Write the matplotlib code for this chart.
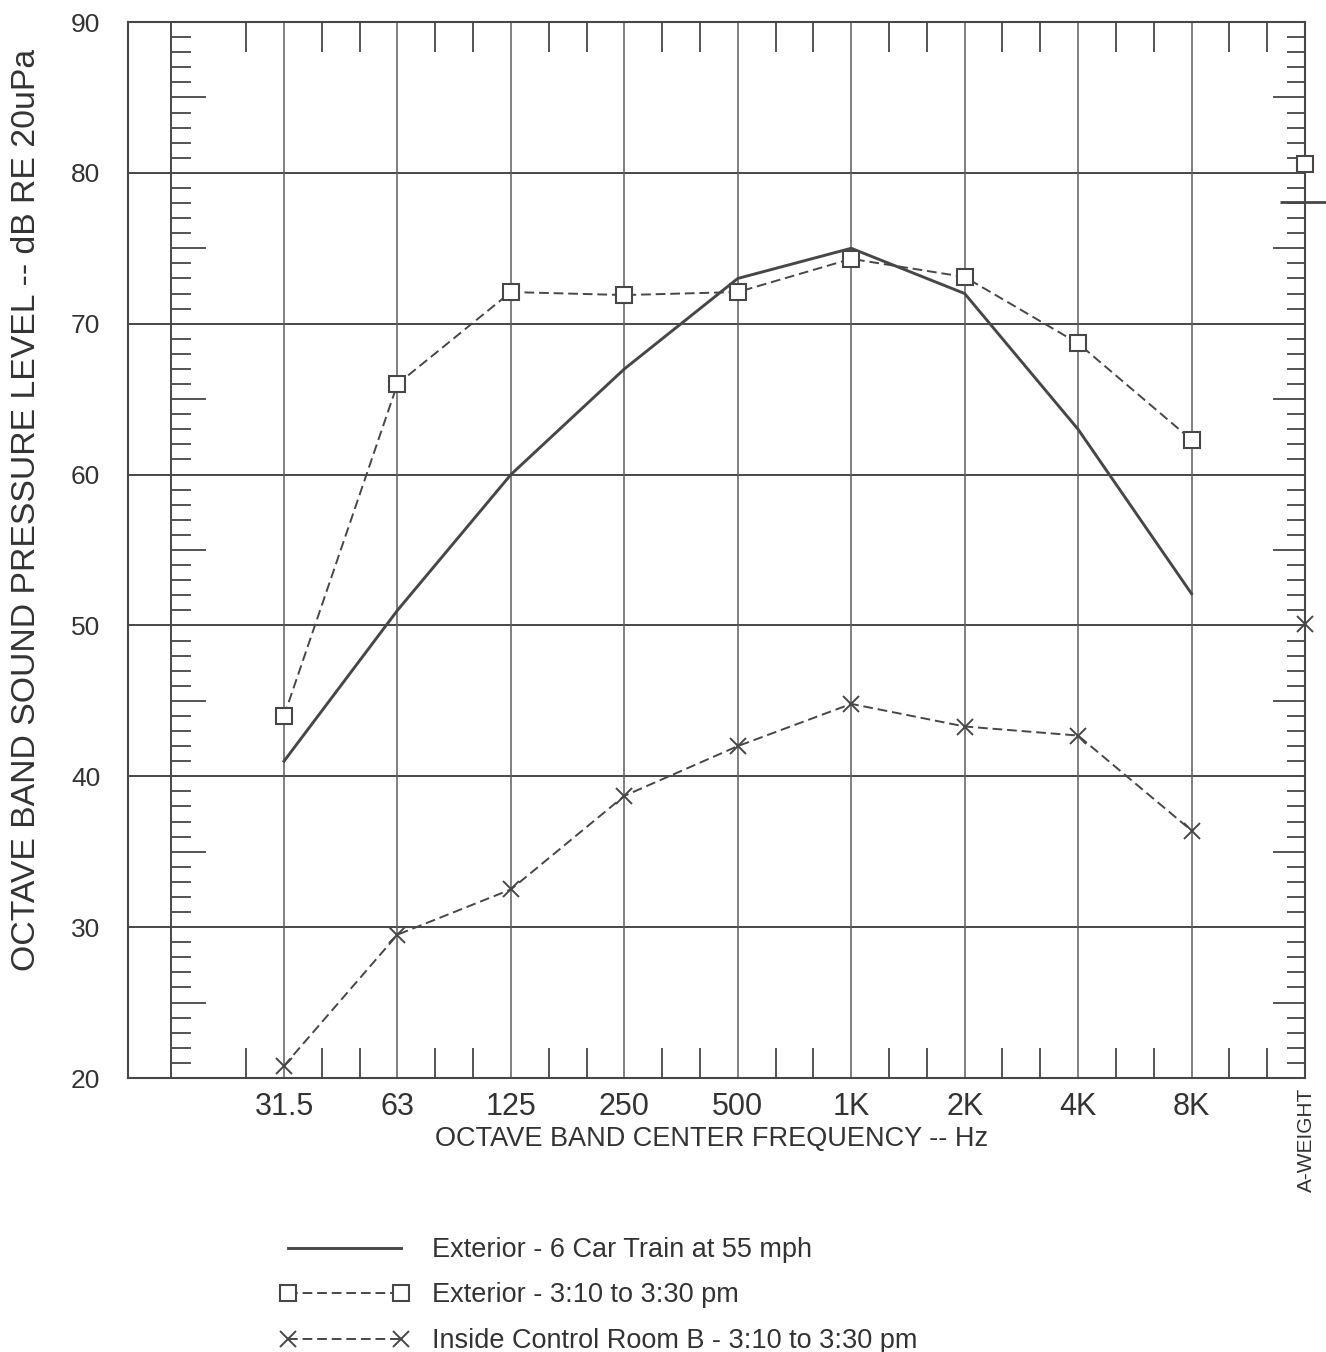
import matplotlib
matplotlib.use('Agg')
from matplotlib import pyplot as plt
import matplotlib.transforms as mtransforms

plt.rcParams['font.family'] = ['Liberation Sans', 'DejaVu Sans']

# octave band centre frequencies, plus the A-weighted overall level at the end
bands = ['31.5', '63', '125', '250', '500', '1K', '2K', '4K', '8K']
band_pos = list(range(len(bands)))
a_weight_pos = len(bands)

# Exterior - 6 car train at 55 mph
train_db = [41.0, 51.0, 60.0, 67.0, 73.0, 75.0, 72.0, 63.0, 52.1]
train_a = 78.1
# Exterior - 3:10 to 3:30 pm
exterior_db = [44.0, 66.0, 72.1, 71.9, 72.1, 74.3, 73.1, 68.7, 62.3]
exterior_a = 80.6
# Inside control room B - 3:10 to 3:30 pm
inside_db = [20.8, 29.5, 32.5, 38.7, 42.0, 44.8, 43.3, 42.7, 36.4]
inside_a = 50.1

y_min, y_max = 20, 90
x_min, x_max = -1.375, a_weight_pos

ink = '#474747'
text_col = '#333333'

W, H = 1326, 1352
fig = plt.figure(figsize=(W / 100, H / 100), dpi=100)
ax = fig.add_axes([128 / W, 1 - 1078 / H, (1305 - 128) / W, (1078 - 22) / H])
ax.set_xlim(x_min, x_max)
ax.set_ylim(y_min, y_max)

for s in ax.spines.values():
    s.set_color(ink)
    s.set_linewidth(1.5)

# chart-paper grid: horizontal every 10 dB, vertical at every octave band
for v in range(30, 90, 10):
    ax.axhline(v, color=ink, lw=1.4, zorder=1)
for p in band_pos:
    ax.axvline(p, color='#5e5e5e', lw=1.1, zorder=1)
ax.axvline(-1, color=ink, lw=1.4, zorder=1)

# 1/3 octave ticks along the top and bottom edges
bx = mtransforms.blended_transform_factory(ax.transData, ax.transAxes)
third = [p + f for p in [-1] + band_pos for f in (1 / 3, 2 / 3)]
third = [t for t in third if t > -0.5]
tick_frac = 30 / 1056
ax.vlines(third, 0, tick_frac, transform=bx, color=ink, lw=1.3)
ax.vlines(third, 1 - tick_frac, 1, transform=bx, color=ink, lw=1.3)

# 1 dB ticks on the inner scale line and on the right edge
px = (x_max - x_min) / 1177
for v in range(y_min + 1, y_max):
    if v % 10 == 0:
        continue
    ln = 35 if v % 5 == 0 else 20
    ax.hlines(v, -1, -1 + ln * px, color=ink, lw=1.3)
    rn = 32 if v % 5 == 0 else 18
    ax.hlines(v, x_max - rn * px, x_max, color=ink, lw=1.3)

# data
ax.plot(band_pos, train_db, color=ink, lw=2.1, zorder=3,
        label='Exterior - 6 Car Train at 55 mph')
ax.plot(band_pos, exterior_db, color=ink, lw=1.4, ls=(0, (5, 2.5)),
        marker='s', ms=11, mfc='white', mec=ink, mew=1.5, zorder=4,
        label='Exterior - 3:10 to 3:30 pm')
ax.plot(band_pos, inside_db, color=ink, lw=1.4, ls=(0, (5, 2.5)),
        marker='x', ms=12, mec=ink, mew=1.4, zorder=4,
        label='Inside Control Room B - 3:10 to 3:30 pm')

# A-weighted overall levels sit on the right edge
ax.plot([a_weight_pos], [train_a], marker='_', ms=36, mew=2, color=ink,
        clip_on=False, zorder=5)
ax.plot([a_weight_pos], [exterior_a], marker='s', ms=11, mfc='white',
        mec=ink, mew=1.5, ls='none', clip_on=False, zorder=5)
ax.plot([a_weight_pos], [inside_a], marker='x', ms=12, mec=ink, mew=1.4,
        ls='none', clip_on=False, zorder=5)

ax.set_xticks(band_pos)
ax.set_xticklabels(bands)
ax.set_yticks(range(y_min, y_max + 1, 10))
ax.tick_params(axis='x', length=0, pad=10, labelsize=22, labelcolor=text_col)
ax.tick_params(axis='y', length=0, pad=20, labelsize=19, labelcolor=text_col)

ax.annotate('A-WEIGHT', xy=(a_weight_pos, y_min), xytext=(1, -7),
            textcoords='offset points', rotation=90, ha='center', va='top',
            fontsize=15, color=text_col, annotation_clip=False)

fig.text(712 / W, 1 - 1139 / H, 'OCTAVE BAND CENTER FREQUENCY -- Hz',
         ha='center', va='center', fontsize=19.5, color=text_col)
fig.text(27 / W, 1 - 510 / H, 'OCTAVE BAND SOUND PRESSURE LEVEL -- dB RE 20uPa',
         rotation=90, ha='center', va='center', fontsize=24.3, color=text_col)

leg = fig.legend(loc='upper left', bbox_to_anchor=(280 / W, 1 - 1237 / H),
                 frameon=False, numpoints=2, handlelength=4.75,
                 handletextpad=0.85, labelspacing=0.72, borderpad=0,
                 borderaxespad=0, fontsize=19.5)
for t in leg.get_texts():
    t.set_color(text_col)

plt.savefig('out.png', dpi=100)
